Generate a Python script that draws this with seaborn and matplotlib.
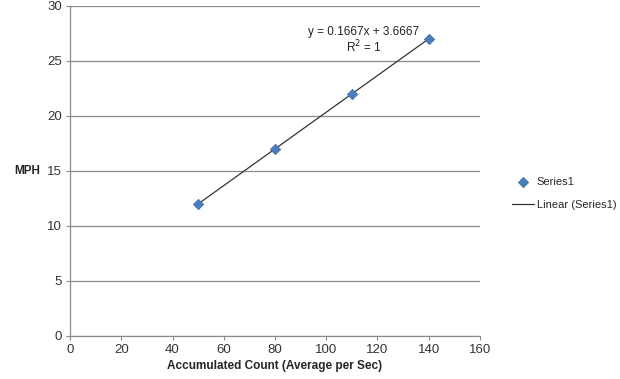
import numpy as np
import pandas as pd
import matplotlib
matplotlib.use('Agg')
import matplotlib.pyplot as plt
import seaborn as sns

# Data
count = [50, 80, 110, 140]
mph = [12, 17, 22, 27]
x_ticks = [0, 20, 40, 60, 80, 100, 120, 140, 160]
y_ticks = [0, 5, 10, 15, 20, 25, 30]

df = pd.DataFrame({'count': count, 'mph': mph})

# Linear fit (trendline)
slope, intercept = np.polyfit(df['count'], df['mph'], 1)
trend = pd.DataFrame({'count': [min(count), max(count)]})
trend['mph'] = slope * trend['count'] + intercept

sns.set_style('white')
plt.rcParams['font.family'] = ['Liberation Sans', 'DejaVu Sans']

fig = plt.figure(figsize=(6.2, 3.79), dpi=100)
ax = fig.add_axes([0.113, 0.1135, 0.661, 0.871])

ax.set_xlim(0, 160)
ax.set_ylim(0, 30)
ax.set_xticks(x_ticks)
ax.set_yticks(y_ticks)
ax.grid(axis='y', color='#8c8c8c', linewidth=0.9)
ax.set_axisbelow(True)

sns.lineplot(data=trend, x='count', y='mph', ax=ax, color='#333333',
             linewidth=0.9, label='Linear (Series1)')
sns.scatterplot(data=df, x='count', y='mph', ax=ax, marker='D', s=28,
                color='#4a7ebb', edgecolor='#3a6aa5', linewidth=0.5,
                label='Series1', zorder=3)

for side in ['top', 'right']:
    ax.spines[side].set_visible(False)
for side in ['left', 'bottom']:
    ax.spines[side].set_color('#8c8c8c')
    ax.spines[side].set_linewidth(0.9)

ax.tick_params(axis='both', which='both', direction='out', length=3,
               width=0.8, color='#8c8c8c', labelsize=9.5, labelcolor='#333333',
               left=True, bottom=True, pad=3)

ax.set_xlabel('Accumulated Count (Average per Sec)', fontsize=8.5,
              fontweight='bold', labelpad=3)
ax.set_ylabel('MPH', fontsize=8.5, fontweight='bold', rotation=0,
              ha='center', va='center')
ax.yaxis.set_label_coords(-0.105, 0.5)

ax.text(114.5, 27.6, f'y = {slope:.4f}x + {intercept:.4f}', fontsize=8.5,
        ha='center', va='center', color='#222222')
ax.text(114.5, 26.25, 'R$^2$ = 1', fontsize=8.5, ha='center', va='center',
        color='#222222')

handles, labels = ax.get_legend_handles_labels()
order = [1, 0]
ax.legend([handles[i] for i in order], [labels[i] for i in order],
          loc='center left', bbox_to_anchor=(1.055, 0.432), frameon=False,
          fontsize=8, handlelength=1.9, handletextpad=0.3, labelspacing=1.2)

fig.savefig('out.png', dpi=100)
